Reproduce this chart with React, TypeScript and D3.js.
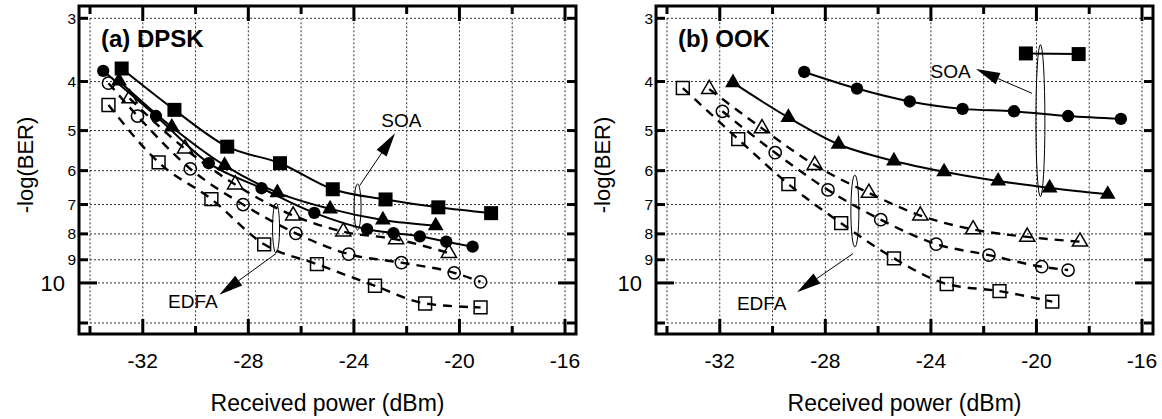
import React from 'react';
import * as d3 from 'd3';

const W = 1162;
const H = 419;

// x = received power (dBm), y = -log(BER)
// (a) DPSK
const dpskSoaSquareX = [-32.8, -30.8, -28.8, -26.8, -24.8, -22.8, -20.8, -18.8];
const dpskSoaSquareY = [3.77, 4.55, 5.38, 5.8, 6.53, 6.84, 7.09, 7.28];
const dpskSoaCircleX = [-33.5, -31.5, -29.5, -27.5, -25.5, -23.5, -22.5, -21.5, -20.5, -19.5];
const dpskSoaCircleY = [3.81, 4.68, 5.8, 6.5, 7.27, 7.83, 7.97, 8.09, 8.29, 8.48];
const dpskSoaTriX = [-32.9, -30.9, -28.9, -26.9, -24.9, -22.9, -20.9];
const dpskSoaTriY = [3.99, 4.92, 5.86, 6.63, 7.14, 7.51, 7.71];
const dpskEdfaTriX = [-32.5, -30.4, -28.5, -26.3, -24.4, -22.4, -20.4];
const dpskEdfaTriY = [4.32, 5.43, 6.39, 7.36, 7.92, 8.2, 8.73];
const dpskEdfaCircleX = [-33.3, -32.2, -30.2, -28.2, -26.2, -24.2, -22.2, -20.2, -19.2];
const dpskEdfaCircleY = [4.03, 4.68, 5.95, 7.0, 7.98, 8.77, 9.12, 9.55, 9.95];
const dpskEdfaSquareX = [-33.3, -31.4, -29.4, -27.4, -25.4, -23.2, -21.3, -19.2];
const dpskEdfaSquareY = [4.45, 5.78, 6.83, 8.39, 9.18, 10.13, 10.98, 11.18];

// (b) OOK
const ookSoaSquareX = [-20.4, -18.4];
const ookSoaSquareY = [3.52, 3.53];
const ookSoaCircleX = [-28.8, -26.8, -24.8, -22.8, -20.85, -18.8, -16.8];
const ookSoaCircleY = [3.83, 4.13, 4.38, 4.53, 4.58, 4.68, 4.74];
const ookSoaTriX = [-31.5, -29.4, -27.5, -25.4, -23.5, -21.45, -19.5, -17.3];
const ookSoaTriY = [4.02, 4.71, 5.32, 5.74, 6.03, 6.29, 6.49, 6.68];
const ookEdfaTriX = [-32.4, -30.4, -28.4, -26.35, -24.4, -22.4, -20.35, -18.35];
const ookEdfaTriY = [4.14, 4.95, 5.85, 6.64, 7.36, 7.84, 8.11, 8.29];
const ookEdfaCircleX = [-31.9, -29.9, -27.9, -25.9, -23.8, -21.8, -19.8, -18.8];
const ookEdfaCircleY = [4.58, 5.53, 6.55, 7.5, 8.38, 8.81, 9.29, 9.43];
const ookEdfaSquareX = [-33.4, -31.3, -29.4, -27.4, -25.4, -23.4, -21.4, -19.4];
const ookEdfaSquareY = [4.12, 5.2, 6.38, 7.62, 8.94, 10.05, 10.38, 10.89];

const xTicks = [-34, -32, -30, -28, -26, -24, -22, -20, -18, -16];
const xLabels = [-32, -28, -24, -20, -16];
const yTicks = [3, 4, 5, 6, 7, 8, 9, 10, 12];
const yLabels = [3, 4, 5, 6, 7, 8, 9, 10];

type Marker = 'square' | 'circle' | 'triangle';
type Series = { xs: number[]; ys: number[]; marker: Marker; filled: boolean };

const mk = (xs: number[], ys: number[], marker: Marker, filled: boolean): Series => ({ xs, ys, marker, filled });

const dpskSeries = [
  mk(dpskEdfaSquareX, dpskEdfaSquareY, 'square', false),
  mk(dpskEdfaCircleX, dpskEdfaCircleY, 'circle', false),
  mk(dpskEdfaTriX, dpskEdfaTriY, 'triangle', false),
  mk(dpskSoaTriX, dpskSoaTriY, 'triangle', true),
  mk(dpskSoaCircleX, dpskSoaCircleY, 'circle', true),
  mk(dpskSoaSquareX, dpskSoaSquareY, 'square', true),
];
const ookSeries = [
  mk(ookEdfaSquareX, ookEdfaSquareY, 'square', false),
  mk(ookEdfaCircleX, ookEdfaCircleY, 'circle', false),
  mk(ookEdfaTriX, ookEdfaTriY, 'triangle', false),
  mk(ookSoaTriX, ookSoaTriY, 'triangle', true),
  mk(ookSoaCircleX, ookSoaCircleY, 'circle', true),
  mk(ookSoaSquareX, ookSoaSquareY, 'square', true),
];

// annotations in data units: ellipse centre, ellipse radii (px), arrow start/tip, label
type Note = {
  label: string; ex: number; ey: number; rx: number; ry: number;
  sx: number; sy: number; tx: number; ty: number; lx: number; ly: number;
};
const dpskNotes: Note[] = [
  { label: 'EDFA', ex: -26.95, ey: 7.79, rx: 3.5, ry: 25, sx: -26.95, sy: 8.75, tx: -29.1, ty: 10.55, lx: -30.1, ly: 11.2 },
  { label: 'SOA', ex: -23.86, ey: 7.08, rx: 3.5, ry: 23, sx: -23.78, sy: 6.42, tx: -22.44, ty: 5.06, lx: -22.2, ly: 4.92 },
];
const ookNotes: Note[] = [
  { label: 'EDFA', ex: -26.88, ey: 7.21, rx: 4, ry: 36, sx: -26.95, sy: 8.75, tx: -29.07, ty: 10.43, lx: -30.41, ly: 11.31 },
  { label: 'SOA', ex: -19.85, ey: 4.78, rx: 4.5, ry: 76, sx: -20.17, sy: 4.22, tx: -22.29, ty: 3.78, lx: -23.25, ly: 3.94 },
];

const FONT = 'Arial, "Liberation Sans", Helvetica, sans-serif';

function Arrow({ x1, y1, x2, y2 }: { x1: number; y1: number; x2: number; y2: number }) {
  const dx = x2 - x1, dy = y2 - y1;
  const len = Math.hypot(dx, dy);
  const ux = dx / len, uy = dy / len;
  const L = 24, hw = 6;
  const bx = x2 - ux * L, by = y2 - uy * L;
  const pts = [
    [x2, y2],
    [bx - uy * hw, by + ux * hw],
    [bx + uy * hw, by - ux * hw],
  ];
  return (
    <g>
      <line x1={x1} y1={y1} x2={bx} y2={by} stroke="#000" strokeWidth={1} />
      <polygon points={pts.map(p => p.join(',')).join(' ')} fill="#000" />
    </g>
  );
}

function Panel({ left, title, series, notes }: { left: number; title: string; series: Series[]; notes: Note[] }) {
  const gx0 = left + 11, gx1 = gx0 + 475;
  const gy0 = 18.3, gy1 = 323;
  const fx0 = left, fx1 = gx1 + 11, fy0 = 6, fy1 = 334;
  const x = d3.scaleLinear().domain([-34, -16]).range([gx0, gx1]);
  const y = d3.scaleLog().domain([3, 12]).range([gy0, gy1]);
  const line = d3.line<[number, number]>().x(d => x(d[0])).y(d => y(d[1])).curve(d3.curveMonotoneX);

  const symbolFor = (m: Marker, filled: boolean) => {
    if (m === 'square') return d3.symbol(d3.symbolSquare, filled ? 196 : 165)();
    if (m === 'circle') return d3.symbol(d3.symbolCircle, filled ? 120 : 118)();
    return d3.symbol(d3.symbolTriangle, filled ? 108 : 100)();
  };

  return (
    <g>
      {/* grid */}
      {xTicks.map(t => (
        <line key={'gx' + t} x1={x(t)} x2={x(t)} y1={gy0} y2={gy1} stroke="#333" strokeWidth={1} strokeDasharray="2,2" />
      ))}
      {yTicks.map(t => (
        <line key={'gy' + t} x1={gx0} x2={gx1} y1={y(t)} y2={y(t)} stroke="#333" strokeWidth={1} strokeDasharray="2,2" />
      ))}

      {/* frame */}
      <rect x={fx0} y={fy0} width={fx1 - fx0} height={fy1 - fy0} fill="none" stroke="#000" strokeWidth={3} />

      {/* ticks */}
      {xTicks.map(t => {
        const len = xLabels.includes(t) ? 15 : 8;
        return (
          <g key={'tx' + t}>
            <line x1={x(t)} x2={x(t)} y1={fy1} y2={fy1 - len} stroke="#000" strokeWidth={3} />
            <line x1={x(t)} x2={x(t)} y1={fy0} y2={fy0 + len} stroke="#000" strokeWidth={3} />
          </g>
        );
      })}
      {yTicks.map(t => {
        const len = t === 10 ? 18 : 9;
        return (
          <g key={'ty' + t}>
            <line x1={fx0} x2={fx0 + len} y1={y(t)} y2={y(t)} stroke="#000" strokeWidth={3} />
            <line x1={fx1} x2={fx1 - len} y1={y(t)} y2={y(t)} stroke="#000" strokeWidth={3} />
          </g>
        );
      })}

      {/* tick labels */}
      {xLabels.map(t => (
        <text key={'lx' + t} x={x(t)} y={368} textAnchor="middle" fontSize={21} fontFamily={FONT}>{t}</text>
      ))}
      {yLabels.map(t => (
        <text key={'ly' + t} x={t === 10 ? fx0 - 14 : fx0 - 3} y={y(t)} dy={t === 10 ? 8 : 5.5}
          textAnchor="end" fontSize={t === 10 ? 22 : 15.5} fontFamily={FONT}>{t}</text>
      ))}

      {/* axis titles */}
      <text x={(fx0 + fx1) / 2} y={411} textAnchor="middle" fontSize={23} fontFamily={FONT}>Received power (dBm)</text>
      <text transform={`translate(${left - 46},165) rotate(-90)`} textAnchor="middle" fontSize={22} fontFamily={FONT}>-log(BER)</text>

      {/* title */}
      <text x={gx0 + 11} y={47} fontSize={24} fontWeight="bold" fontFamily={FONT}>{title}</text>

      {/* series lines */}
      {series.map((s, i) => (
        <path key={'l' + i}
          d={line(s.xs.map((v, j) => [v, s.ys[j]] as [number, number])) || ''}
          fill="none" stroke="#000" strokeWidth={s.filled ? 2 : 2.4}
          strokeDasharray={s.filled ? undefined : '9,7'} />
      ))}

      {/* markers */}
      {series.map((s, i) => (
        <g key={'m' + i}>
          {s.xs.map((v, j) => (
            <path key={j} transform={`translate(${x(v)},${y(s.ys[j])})`} d={symbolFor(s.marker, s.filled) || ''}
              fill={s.filled ? '#000' : 'none'} stroke="#000" strokeWidth={s.filled ? 0 : 1.5} />
          ))}
        </g>
      ))}

      {/* annotations */}
      {notes.map((n, i) => (
        <g key={'n' + i}>
          <ellipse cx={x(n.ex)} cy={y(n.ey)} rx={n.rx} ry={n.ry} fill="none" stroke="#000" strokeWidth={1} />
          <Arrow x1={x(n.sx)} y1={y(n.sy)} x2={x(n.tx)} y2={y(n.ty)} />
          <text x={x(n.lx)} y={y(n.ly)} textAnchor="middle" fontSize={19} fontFamily={FONT}>{n.label}</text>
        </g>
      ))}
    </g>
  );
}

export default function App() {
  return (
    <svg width={W} height={H} style={{ position: 'absolute', left: 0, top: 0, background: '#fff' }}>
      <rect width={W} height={H} fill="#fff" />
      <Panel left={79} title="(a) DPSK" series={dpskSeries} notes={dpskNotes} />
      <Panel left={656} title="(b) OOK" series={ookSeries} notes={ookNotes} />
    </svg>
  );
}
